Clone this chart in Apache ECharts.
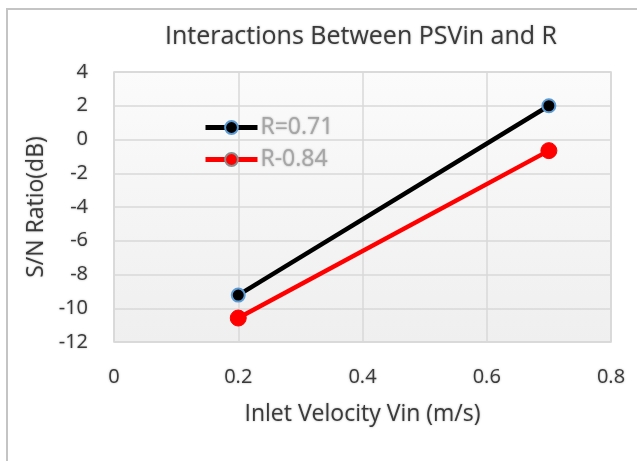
<!DOCTYPE html>
<html>
<head>
<meta charset="utf-8">
<script src="https://cdn.jsdelivr.net/npm/echarts@6/dist/echarts.min.js"></script>
<style>
  html, body { margin: 0; padding: 0; background: #fff; overflow: hidden; }
  #main { width: 637px; height: 461px; }
</style>
</head>
<body>
<div id="main"></div>
<script>
var seriesNames = ['R=0.71', 'R-0.84'];
var vinBlack = [0.2, 0.7];
var snBlack = [-9.22, 2.0];
var vinRed = [0.2, 0.7];
var snRed = [-10.58, -0.66];

var chart = echarts.init(document.getElementById('main'));
var txtShadow = { textShadowColor: 'rgba(0,0,0,0.35)', textShadowBlur: 2 };
var font = 'Open Sans';

function pairs(xs, ys) {
  return xs.map(function (x, i) { return [x, ys[i]]; });
}

chart.setOption({
  animation: false,
  graphic: [{
    type: 'rect',
    shape: { x: 7, y: 9, width: 700, height: 600 },
    style: { fill: 'none', stroke: '#c4c4c4', lineWidth: 2 },
    silent: true
  }],
  title: {
    text: 'Interactions Between PSVin and R',
    left: 160,
    top: 19,
    textStyle: Object.assign({ fontFamily: font, fontSize: 25, fontWeight: 'normal', color: '#3a3a3a' }, txtShadow)
  },
  legend: {
    orient: 'vertical',
    left: 198,
    top: 111,
    itemWidth: 52,
    itemHeight: 16,
    itemGap: 9,
    textStyle: Object.assign({ fontFamily: font, fontSize: 23, color: '#a6a6a6', padding: [0, 0, 0, -2] }, txtShadow),
    data: [
      { name: seriesNames[0], lineStyle: { width: 5, color: '#000' }, itemStyle: { color: '#000', borderColor: '#5b9bd5', borderWidth: 2 } },
      { name: seriesNames[1], lineStyle: { width: 5, color: '#ff0000' }, itemStyle: { color: '#ff0000', borderColor: '#8c8c8c', borderWidth: 2 } }
    ]
  },
  grid: {
    left: 114, right: 26, top: 72, bottom: 119,
    show: true,
    backgroundColor: new echarts.graphic.LinearGradient(0, 0, 0, 1, [
      { offset: 0, color: '#fbfbfb' },
      { offset: 1, color: '#efefef' }
    ]),
    borderColor: '#d4d4d4',
    borderWidth: 1.5
  },
  xAxis: {
    type: 'value',
    min: 0, max: 0.8, interval: 0.2,
    name: 'Inlet Velocity Vin (m/s)',
    nameLocation: 'middle',
    nameGap: 61,
    nameTextStyle: Object.assign({ fontFamily: font, fontSize: 23, color: '#3a3a3a' }, txtShadow),
    axisLine: { show: false },
    axisTick: { show: false },
    axisLabel: Object.assign({ fontFamily: font, fontSize: 20, color: '#3a3a3a', margin: 25 }, txtShadow),
    splitLine: { lineStyle: { color: '#d9d9d9', width: 1.5 } }
  },
  yAxis: {
    type: 'value',
    min: -12, max: 4, interval: 2,
    name: 'S/N Ratio(dB)',
    nameLocation: 'middle',
    nameGap: 65,
    nameTextStyle: Object.assign({ fontFamily: font, fontSize: 23, color: '#3a3a3a' }, txtShadow),
    axisLine: { show: false },
    axisTick: { show: false },
    axisLabel: Object.assign({ fontFamily: font, fontSize: 20, color: '#3a3a3a', margin: 26 }, txtShadow),
    splitLine: { lineStyle: { color: '#d9d9d9', width: 1.5 } }
  },
  series: [
    {
      name: seriesNames[0],
      type: 'line',
      data: pairs(vinBlack, snBlack),
      symbol: 'circle',
      symbolSize: 13,
      lineStyle: { color: '#000', width: 4.5 },
      itemStyle: { color: '#000', borderColor: '#5b9bd5', borderWidth: 2 }
    },
    {
      name: seriesNames[1],
      type: 'line',
      data: pairs(vinRed, snRed),
      symbol: 'circle',
      symbolSize: 16,
      lineStyle: { color: '#ff0000', width: 4.5 },
      itemStyle: { color: '#ff0000', borderColor: '#ff0000', borderWidth: 1 }
    }
  ]
});
</script>
</body>
</html>
